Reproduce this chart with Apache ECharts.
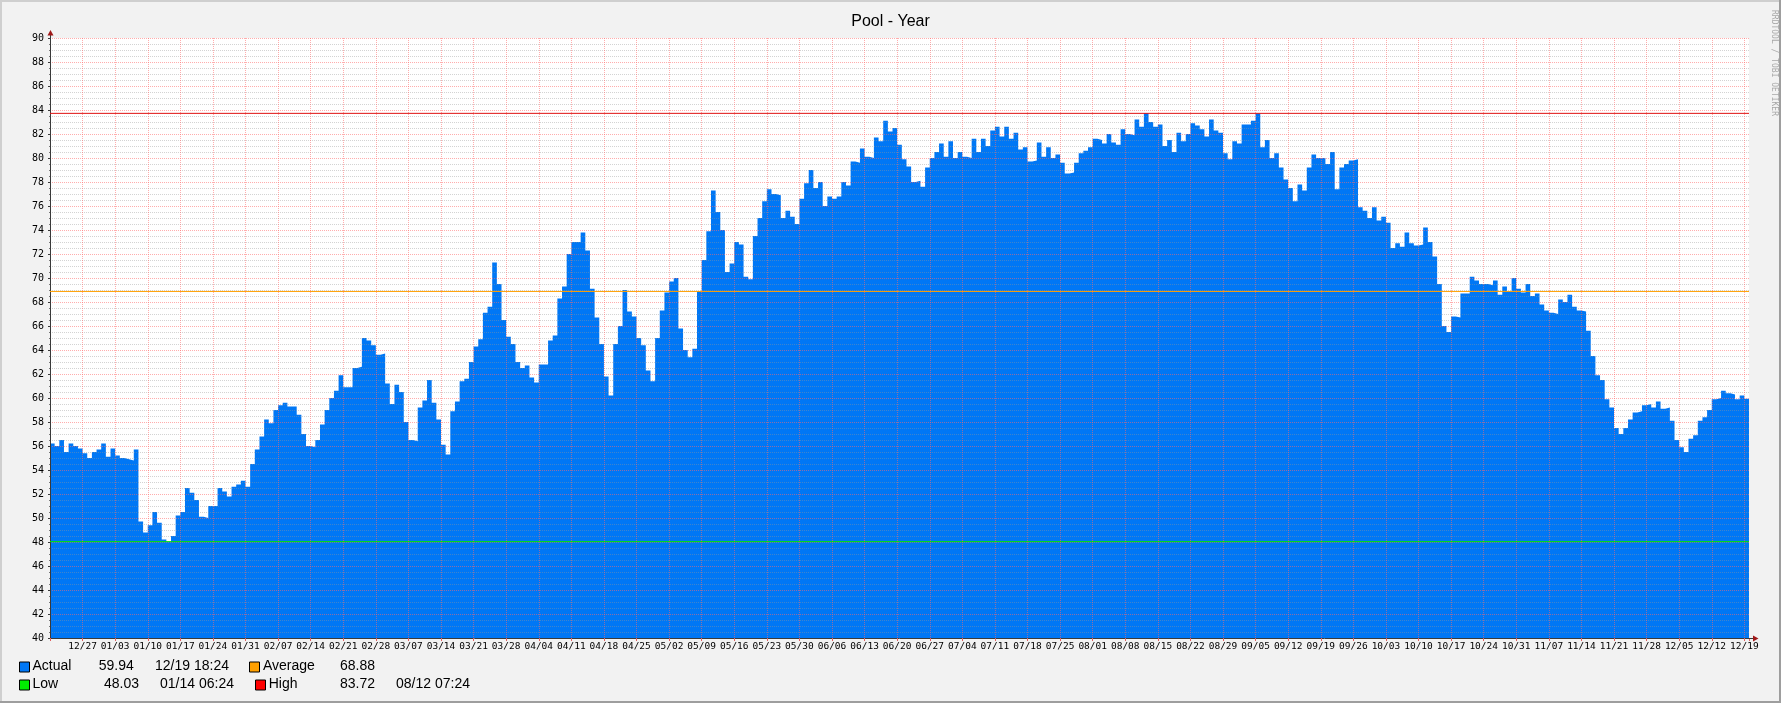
<!DOCTYPE html>
<html>
<head>
<meta charset="utf-8">
<script src="https://cdn.jsdelivr.net/npm/echarts@6/dist/echarts.min.js"></script>
<style>
html,body{margin:0;padding:0;background:#F2F2F2;}
#chart{width:1781px;height:703px;}
</style>
</head>
<body>
<div id="chart"></div>
<script>
// ---------------- DATA ----------------
const chartTitle = 'Pool - Year';
const startDate = '2022-12-20';   // first daily sample (day index 0)
const tickLabels = ['12/27','01/03','01/10','01/17','01/24','01/31','02/07','02/14','02/21','02/28',
  '03/07','03/14','03/21','03/28','04/04','04/11','04/18','04/25','05/02','05/09','05/16','05/23',
  '05/30','06/06','06/13','06/20','06/27','07/04','07/11','07/18','07/25','08/01','08/08','08/15',
  '08/22','08/29','09/05','09/12','09/19','09/26','10/03','10/10','10/17','10/24','10/31','11/07',
  '11/14','11/21','11/28','12/05','12/12','12/19'];
// daily "Actual" values, one per day starting at startDate
const actualValues = [
  56.2,56.0,56.5,55.5,56.2,56.0,55.8,55.4,55.0,55.5,
  55.7,56.2,55.1,55.8,55.2,55.0,54.9,54.8,55.7,49.7,
  48.8,49.4,50.5,49.6,48.2,48.03,48.5,50.2,50.5,52.5,
  52.1,51.5,50.1,50.0,51.0,51.0,52.5,52.2,51.8,52.6,
  52.8,53.1,52.6,54.5,55.7,56.8,58.2,57.9,59.0,59.4,
  59.6,59.3,59.3,58.6,57.0,56.0,55.9,56.5,57.8,59.0,
  60.0,60.6,61.9,60.9,60.9,62.5,62.6,65.0,64.8,64.4,
  63.6,63.7,61.2,59.5,61.1,60.5,58.0,56.5,56.4,59.2,
  59.8,61.5,59.6,58.2,56.1,55.3,58.9,59.7,61.4,61.6,
  63.0,64.3,64.9,67.1,67.6,71.3,69.5,66.5,65.1,64.5,
  63.0,62.5,62.7,61.7,61.3,62.8,62.8,64.8,65.2,68.3,
  69.3,72.0,73.0,73.0,73.8,72.3,69.1,66.7,64.5,61.8,
  60.2,64.5,66.0,69.0,67.2,66.8,65.0,64.4,62.3,61.4,
  65.0,67.3,68.8,69.7,70.0,65.8,64.0,63.4,64.1,68.9,
  71.5,73.9,77.3,75.5,74.0,70.5,71.2,73.0,72.8,70.1,
  69.9,73.5,75.0,76.4,77.4,77.0,76.9,75.0,75.6,75.1,
  74.5,76.6,77.9,79.0,77.5,78.0,76.0,76.8,76.6,76.8,
  78.0,77.7,79.7,79.6,80.8,80.1,80.0,81.7,81.4,83.1,
  82.2,82.5,81.1,79.9,79.3,78.0,78.1,77.6,79.2,80.0,
  80.5,81.2,80.1,81.4,80.0,80.5,80.1,80.0,81.6,80.5,
  81.6,81.0,82.3,82.6,81.8,82.6,81.6,82.1,80.7,80.9,
  79.7,79.8,81.3,80.1,80.9,80.0,80.3,79.6,78.7,78.8,
  79.6,80.4,80.6,80.9,81.6,81.5,81.2,82.0,81.3,81.1,
  82.4,82.0,81.9,83.2,82.6,83.72,83.0,82.6,82.8,81.0,
  81.5,80.5,82.1,81.4,82.0,82.9,82.7,82.4,81.8,83.2,
  82.3,82.1,80.4,79.9,81.4,81.2,82.8,82.8,83.1,83.7,
  80.9,81.5,80.0,80.4,79.2,78.2,77.5,76.4,77.8,77.3,
  79.2,80.3,80.0,80.0,79.5,80.5,77.4,79.2,79.5,79.8,
  79.9,75.9,75.6,75.0,75.9,74.8,75.1,74.6,72.5,72.9,
  72.6,73.8,72.9,72.7,72.8,74.2,73.0,71.8,69.5,66.0,
  65.5,66.8,66.7,68.7,68.7,70.1,69.8,69.5,69.5,69.4,
  69.8,68.6,69.3,68.9,70.0,69.1,68.8,69.5,68.5,68.7,
  67.8,67.3,67.1,67.0,68.2,68.0,68.6,67.6,67.3,67.2,
  65.6,63.5,61.9,61.5,59.9,59.2,57.5,57.0,57.5,58.2,
  58.8,58.9,59.4,59.5,59.2,59.7,59.1,59.2,58.1,56.5,
  55.9,55.5,56.6,56.9,58.1,58.4,59.0,59.9,60.0,60.6,
  60.4,60.3,59.9,60.2,59.94
];
const legendNames  = ['Actual', 'Average', 'Low', 'High'];
const legendValues = [59.94, 68.88, 48.03, 83.72];
const legendTimes  = ['12/19 18:24', '', '01/14 06:24', '08/12 07:24'];
const yTicks = {min: 40, max: 90, step: 2};
const watermark = 'RRDTOOL / TOBI OETIKER';

// ---------------- STYLE / LAYOUT ----------------
const COLORS = {actual:'#0077F5', average:'#FFA000', low:'#00E600', high:'#E01010'};
const BOX_COLORS = ['#0077F5', '#FFA000', '#00EE00', '#FF0000'];
const PL = 50, PR = 1749, PT = 38, PB = 638;
const MONO = 'DejaVu Sans Mono';
const SANS = 'Liberation Sans, Arial, sans-serif';
const nDays = actualValues.length;

const chart = echarts.init(document.getElementById('chart'), null, {renderer:'canvas'});

const areaData = actualValues.map((v, i) => [i, v]);
areaData.push([nDays, actualValues[nDays - 1]]);

function hline(val, color, name) {
  return {
    name, type:'line', data:[[0, val], [nDays, val]], symbol:'none', silent:true,
    lineStyle:{color, width:1}, z:6, animation:false
  };
}

function txt(x, y, text, font, fill, align, rot) {
  return {
    type:'text', x, y, rotation: rot || 0, silent:true, z:20,
    style:{text, font, fill, align: align || 'left', verticalAlign:'middle',
           textAlign: align || 'left', textVerticalAlign:'middle'}
  };
}
function box(x, y, color) {
  return {type:'rect', shape:{x, y, width:10, height:10}, z:20,
          style:{fill:color, stroke:'#000', lineWidth:1}};
}

const legendFont = '14px ' + SANS;
const row1 = 666.5, row2 = 684.5;
const graphics = [
  // frame shading
  {type:'rect', shape:{x:0, y:0, width:1781, height:2}, style:{fill:'#CFCFCF'}, z:20},
  {type:'rect', shape:{x:0, y:0, width:2, height:703}, style:{fill:'#CFCFCF'}, z:20},
  {type:'rect', shape:{x:0, y:701, width:1781, height:2}, style:{fill:'#9E9E9E'}, z:20},
  {type:'rect', shape:{x:1779, y:0, width:2, height:703}, style:{fill:'#9E9E9E'}, z:20},
  // axis extensions + arrows
  {type:'line', shape:{x1:PL+0.5, y1:PT, x2:PL+0.5, y2:PT-4}, style:{stroke:'#3A3A3A', lineWidth:1}, z:20},
  {type:'polygon', shape:{points:[[PL+0.5, PT-8],[PL-2.5, PT-2.5],[PL+3.5, PT-2.5]]}, style:{fill:'#A01818'}, z:20},
  {type:'line', shape:{x1:PR, y1:PB+0.5, x2:PR+4, y2:PB+0.5}, style:{stroke:'#3A3A3A', lineWidth:1}, z:20},
  {type:'polygon', shape:{points:[[PR+4, PB-2.5],[PR+4, PB+3.5],[PR+9.5, PB+0.5]]}, style:{fill:'#A01818'}, z:20},
  // title & watermark
  txt(890.5, 22, chartTitle, '16px ' + SANS, '#000', 'center'),
  txt(1774, 63, watermark, '8px ' + MONO, '#A8A8A8', 'center', -Math.PI / 2),
  // legend row 1
  box(19.5, row1 - 4.5, BOX_COLORS[0]),
  txt(32.5, row1, legendNames[0], legendFont, '#000'),
  txt(98.7, row1, legendValues[0].toFixed(2), legendFont, '#000'),
  txt(155, row1, legendTimes[0], legendFont, '#000'),
  box(249.5, row1 - 4.5, BOX_COLORS[1]),
  txt(263, row1, legendNames[1], legendFont, '#000'),
  txt(340, row1, legendValues[1].toFixed(2), legendFont, '#000'),
  // legend row 2
  box(19.5, row2 - 4.5, BOX_COLORS[2]),
  txt(32.5, row2, legendNames[2], legendFont, '#000'),
  txt(104, row2, legendValues[2].toFixed(2), legendFont, '#000'),
  txt(160, row2, legendTimes[2], legendFont, '#000'),
  box(255.5, row2 - 4.5, BOX_COLORS[3]),
  txt(268.7, row2, legendNames[3], legendFont, '#000'),
  txt(340, row2, legendValues[3].toFixed(2), legendFont, '#000'),
  txt(396, row2, legendTimes[3], legendFont, '#000')
];

const majorGrid = {color:'rgba(255,105,105,0.55)', type:[1,1], width:1};
const minorGrid = {color:'rgba(150,150,150,0.42)', type:[1,1], width:1};

const option = {
  animation:false,
  backgroundColor:'#F2F2F2',
  grid:{left:PL, top:PT, width:PR-PL, height:PB-PT, show:true, backgroundColor:'#FFFFFF', borderWidth:0},
  xAxis:{
    type:'value', min:0, max:nDays, interval:7, z:3,
    axisLine:{show:true, onZero:false, lineStyle:{color:'#3A3A3A', width:1}},
    axisTick:{show:true, length:3, lineStyle:{color:'#E06060'}},
    axisLabel:{
      show:true, margin:4, color:'#000', fontFamily:MONO, fontSize:9.5,
      formatter:(v) => {
        const k = Math.round(v / 7);
        if (Math.abs(v - k * 7) < 1e-6 && k >= 1 && k <= tickLabels.length) return tickLabels[k - 1];
        return '';
      }
    },
    splitLine:{show:true, showMinLine:false, showMaxLine:false, lineStyle:majorGrid}
  },
  yAxis:{
    type:'value', min:yTicks.min, max:yTicks.max, interval:yTicks.step, z:3,
    axisLine:{show:true, lineStyle:{color:'#3A3A3A', width:1}},
    axisTick:{show:true, length:2, lineStyle:{color:'#3A3A3A'}},
    minorTick:{show:true, splitNumber:4, length:1, lineStyle:{color:'#777'}},
    axisLabel:{show:true, margin:6, color:'#000', fontFamily:MONO, fontSize:10},
    splitLine:{show:true, showMinLine:false, lineStyle:majorGrid},
    minorSplitLine:{show:true, lineStyle:minorGrid}
  },
  graphic:{elements:graphics},
  series:[
    {
      name:legendNames[0], type:'line', data:areaData, step:'end',
      symbol:'none', showSymbol:false, silent:true, z:1,
      lineStyle:{width:0, color:COLORS.actual},
      areaStyle:{color:COLORS.actual, opacity:1, origin:'start'}
    },
    hline(legendValues[2], COLORS.low, legendNames[2]),
    hline(legendValues[1], COLORS.average, legendNames[1]),
    hline(legendValues[3], COLORS.high, legendNames[3])
  ]
};
chart.setOption(option);
</script>
</body>
</html>
